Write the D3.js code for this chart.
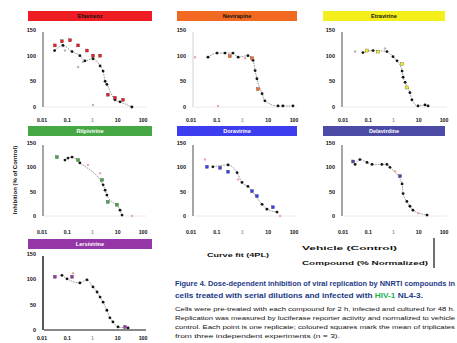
<!DOCTYPE html>
<html>
<head>
<meta charset="utf-8">
<script src="https://cdn.jsdelivr.net/npm/d3@7"></script>
<style>
  body { margin: 0; background: #fff; }
  svg { display: block; font-family: "Liberation Sans", Arial, sans-serif; }
</style>
</head>
<body>
<svg id="chart" width="457" height="343"></svg>
<script>
// ---- data (log10 concentration, % of control) ----
const panelNames = ["Efavirenz", "Nevirapine", "Etravirine", "Rilpivirine", "Doravirine", "Delavirdine", "Lersivirine"];
const panelColors = ["#ee1d24", "#f26a21", "#f4ef1a", "#45a845", "#3d3df0", "#4b4ba6", "#9436a6"];
const panelTextColors = ["#111", "#111", "#111", "#fff", "#fff", "#fff", "#fff"];
const xTicks = [-2, -1, 0, 1, 2];
const xTickLabels = ["0.01", "0.1", "1", "10", "100"];
const yTicks = [0, 50, 100, 150];

const redBlack = [[-1.5,110],[-1.17,120],[-0.81,108],[-0.5,100],[-0.3,90],[0.02,94],[0.3,80],[0.42,70],[0.5,50],[0.57,44],[0.89,14],[1.09,10],[1.56,0]];
const redColor = [[-1.49,120],[-1.21,128],[-0.89,130],[-0.57,120],[-0.22,110],[0.02,100],[0.3,100],[0.61,24],[0.89,18],[1.21,14]];
const redLight = [[-1.09,110],[-0.57,78],[-0.38,88],[0.02,4]];

const orangeBlack = [[-1.34,97],[-0.99,105],[-0.68,105],[-0.37,105],[-0.17,97],[0.21,100],[0.41,91],[0.49,71],[0.56,55],[0.76,26],[0.87,12],[1.38,2],[1.57,2],[1.96,2]];
const orangeColor = [[-0.49,99],[0.37,95],[0.6,35]];
const orangeLight = [[-1.84,97],[0.1,95],[-0.95,2]];

const yellowBlack = [[-1.21,106],[-0.81,110],[-0.26,108],[-0.02,98],[0.14,90],[0.34,70],[0.38,58],[0.46,48],[0.65,28],[0.73,14],[0.97,2],[1.25,4],[1.37,2]];
const yellowColor = [[-1.05,110],[-0.61,108],[0.34,84],[0.53,38]];
const yellowLight = [[-1.52,108],[-0.34,114]];

const greenBlack = [[-1.09,115],[-0.97,119],[-0.81,121],[-0.5,109],[0.42,64],[0.5,53],[0.57,43],[1.09,12],[1.17,2]];
const greenColor = [[-1.41,121],[-0.57,115],[0.38,74],[0.61,29],[0.97,23]];
const greenLight = [[-0.18,105],[0.3,88],[1.56,0]];

const blueBlack = [[-1.15,101],[-0.56,105],[-0.21,89],[-0.02,69],[0.21,61],[0.76,24],[0.95,14],[1.34,8]];
const blueColor = [[-1.38,101],[-0.87,99],[-0.56,91],[0.37,51],[0.56,41],[1.18,18]];
const blueLight = [[-1.46,116],[-0.17,75],[1.46,0]];

const indigoBlack = [[-1.52,106],[-1.33,116],[-1.05,110],[-0.85,106],[-0.46,106],[-0.26,106],[-0.14,100],[0.34,66],[0.38,46],[0.53,30],[0.65,20],[0.77,12],[1.33,2]];
const indigoColor = [[-1.6,112],[0.26,82]];
const indigoLight = [[0.06,92],[0.97,6]];

const purpleBlack = [[-1.21,108],[-1.01,101],[-0.5,93],[-0.22,99],[0.02,85],[0.18,75],[0.3,65],[0.42,55],[0.57,39],[0.69,24],[0.81,16],[1.01,6],[1.41,4]];
const purpleColor = [[-1.49,105],[-0.81,105],[1.29,6]];
const purpleLight = [[-0.77,112]];

const blackSeries = [redBlack, orangeBlack, yellowBlack, greenBlack, blueBlack, indigoBlack, purpleBlack];
const colorSeries = [redColor, orangeColor, yellowColor, greenColor, blueColor, indigoColor, purpleColor];
const lightSeries = [redLight, orangeLight, yellowLight, greenLight, blueLight, indigoLight, purpleLight];

const legendItems = ["Vehicle (Control)", "Compound (% Normalized)"];

// ---- layout ----
const cols = [
  { barX: 28, barW: 124, axisX: 43, x0: 42, x1: 143 },
  { barX: 177, barW: 120, axisX: 193, x0: 191, x1: 294 },
  { barX: 323, barW: 122, axisX: 342, x0: 343, x1: 444 }
];
const rows = [
  { barY: 11, top: 30, bottom: 107, labelY: 122 },
  { barY: 126, top: 143, bottom: 216, labelY: 234 },
  { barY: 239, top: 254, bottom: 330, labelY: 340 }
];

const svg = d3.select("#chart");

panelNames.forEach((name, i) => {
  const c = cols[i % 3], r = rows[Math.floor(i / 3)];
  const g = svg.append("g");
  const last = i === 6;

  const x = d3.scaleLinear().domain([-2, 2]).range([c.x0, c.x1]);
  const y = d3.scaleLinear().domain([0, 150]).range([r.bottom, r.top]);

  // title bar
  g.append("rect")
    .attr("x", c.barX).attr("y", r.barY)
    .attr("width", c.barW).attr("height", 10)
    .attr("fill", panelColors[i]);
  g.append("text")
    .attr("x", c.barX + c.barW / 2).attr("y", r.barY + 7.2)
    .attr("text-anchor", "middle")
    .attr("font-size", 5.6).attr("font-weight", "bold")
    .attr("fill", panelTextColors[i])
    .text(name);

  // axes lines
  g.append("line")
    .attr("x1", c.axisX + 1).attr("x2", c.x1 + 3)
    .attr("y1", r.bottom).attr("y2", r.bottom)
    .attr("stroke", last ? "#111" : "#e4e4e4")
    .attr("stroke-width", last ? 1.2 : 0.8);
  g.append("line")
    .attr("x1", c.axisX).attr("x2", c.axisX)
    .attr("y1", r.top + 2).attr("y2", r.bottom)
    .attr("stroke", last ? "#111" : (i === 1 ? "#e6e6e6" : "#9c9c9c"))
    .attr("stroke-width", last ? 1.4 : 1.8);

  // tick labels
  g.selectAll(".yt").data(yTicks).enter().append("text")
    .attr("x", c.axisX - 7).attr("y", d => y(d) + 2)
    .attr("text-anchor", "end")
    .attr("font-size", 5.5).attr("font-weight", "bold")
    .attr("fill", "#111")
    .text(d => d);
  g.selectAll(".xt").data(xTicks).enter().append("text")
    .attr("x", d => x(d)).attr("y", r.labelY)
    .attr("text-anchor", "middle")
    .attr("font-size", 5.2).attr("font-weight", "bold")
    .attr("fill", (d, k) => k === 2 ? "#999" : "#111")
    .text((d, k) => xTickLabels[k]);

  // connecting line through black points
  const line = d3.line().x(d => x(d[0])).y(d => y(d[1])).curve(d3.curveMonotoneX);
  g.append("path")
    .attr("d", line(blackSeries[i]))
    .attr("fill", "none")
    .attr("stroke", "#555")
    .attr("stroke-width", 0.6)
    .attr("stroke-dasharray", "1.6,1");

  // light points
  g.selectAll(".lp").data(lightSeries[i]).enter().append("circle")
    .attr("cx", d => x(d[0])).attr("cy", d => y(d[1]))
    .attr("r", 1.2)
    .attr("fill", i === 0 || i === 2 ? "#b5b5b5" : "#e9a9a9");

  // black points
  g.selectAll(".bp").data(blackSeries[i]).enter().append("circle")
    .attr("cx", d => x(d[0])).attr("cy", d => y(d[1]))
    .attr("r", 1.4)
    .attr("fill", "#151515");

  // coloured points
  g.selectAll(".cp").data(colorSeries[i]).enter().append("rect")
    .attr("x", d => x(d[0]) - 1.5).attr("y", d => y(d[1]) - 1.5)
    .attr("width", 3).attr("height", 3)
    .attr("fill", panelColors[i])
    .attr("stroke", "#333").attr("stroke-width", 0.3);
});

// shared y-axis title
svg.append("text")
  .attr("transform", "translate(17,180) rotate(-90)")
  .attr("text-anchor", "middle")
  .attr("font-size", 6).attr("font-weight", "bold")
  .attr("fill", "#111")
  .text("Inhibition (% of Control)");

// legend
svg.append("text")
  .attr("x", 207).attr("y", 257)
  .attr("font-size", 6.2).attr("font-weight", "bold").attr("fill", "#111")
  .attr("textLength", 62).attr("lengthAdjust", "spacingAndGlyphs")
  .text("Curve fit (4PL)");
svg.selectAll(".lg").data(legendItems).enter().append("text")
  .attr("x", 302).attr("y", (d, k) => 250 + k * 15)
  .attr("font-size", 6.2).attr("font-weight", "bold").attr("fill", "#111")
  .attr("textLength", (d, k) => k === 0 ? 95 : 126).attr("lengthAdjust", "spacingAndGlyphs")
  .text(d => d);
svg.append("line")
  .attr("x1", 434).attr("x2", 434).attr("y1", 238).attr("y2", 268)
  .attr("stroke", "#111").attr("stroke-width", 1.2);

// caption
const cap = svg.append("g").attr("font-weight", "bold").attr("fill", "#1c3a86");
cap.append("text").attr("x", 175).attr("y", 286)
  .attr("font-size", 6.6).attr("textLength", 280).attr("lengthAdjust", "spacingAndGlyphs")
  .text("Figure 4. Dose-dependent inhibition of viral replication by NNRTI compounds in");
const c2 = cap.append("text").attr("x", 175).attr("y", 298)
  .attr("font-size", 6.6).attr("textLength", 248).attr("lengthAdjust", "spacingAndGlyphs");
c2.append("tspan").text("cells treated with serial dilutions and infected with ");
c2.append("tspan").attr("fill", "#22b14c").text("HIV-1");
c2.append("tspan").text(" NL4-3.");

const body = [
  "Cells were pre-treated with each compound for 2 h, infected and cultured for 48 h.",
  "Replication was measured by luciferase reporter activity and normalized to vehicle",
  "control. Each point is one replicate; coloured squares mark the mean of triplicates",
  "from three independent experiments (n = 3)."
];
svg.append("g").selectAll("text").data(body).enter().append("text")
  .attr("x", 175).attr("y", (d, k) => 311 + k * 9)
  .attr("font-size", 5.6).attr("fill", "#111")
  .attr("textLength", (d, k) => k < 3 ? 280 : 165)
  .attr("lengthAdjust", "spacingAndGlyphs")
  .text(d => d);
</script>
</body>
</html>
